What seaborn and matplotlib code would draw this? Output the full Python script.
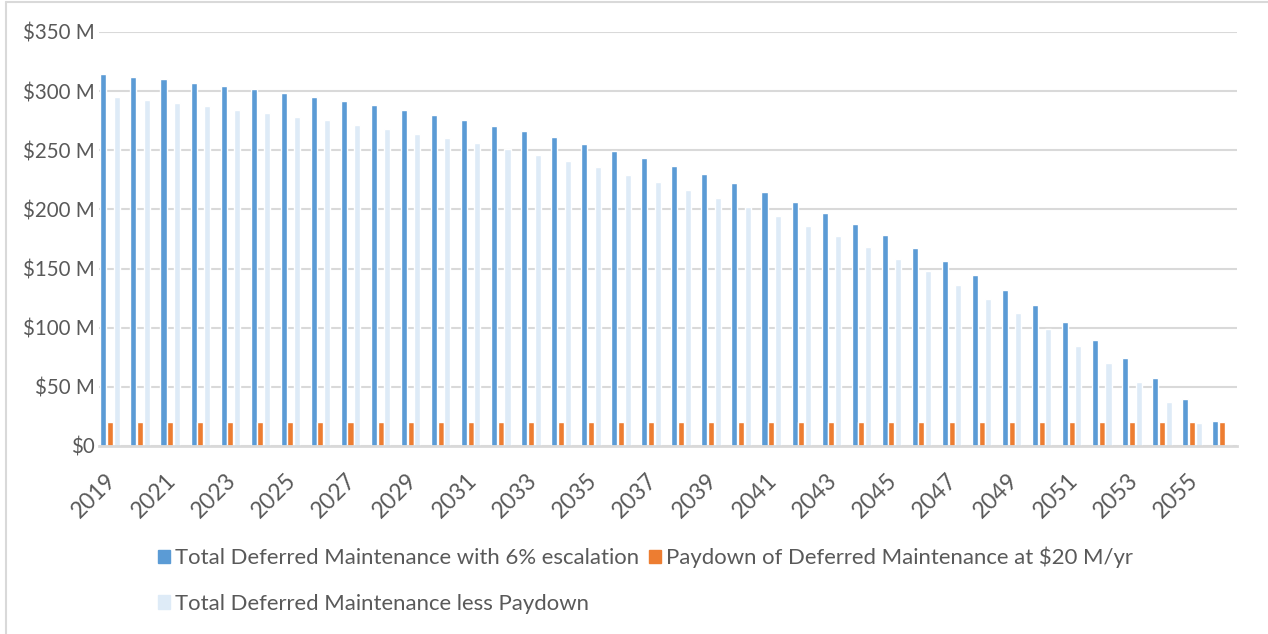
import pandas as pd
import matplotlib.pyplot as plt
import matplotlib.transforms as mtransforms
from matplotlib.patches import Patch
from matplotlib.lines import Line2D
import seaborn as sns

years = list(range(2019, 2057))
total_escalated = [314.5, 311.9, 310.2, 306.8, 304.3, 301.8, 298.4, 295.0, 291.6, 288.2,
                   284.0, 279.8, 275.5, 270.5, 266.2, 261.2, 255.3, 249.3, 243.4, 236.6,
                   229.9, 222.3, 214.7, 206.2, 196.9, 187.6, 178.3, 167.2, 156.2, 144.3,
                   131.6, 118.9, 104.6, 89.4, 74.2, 57.3, 39.5, 20.9]
paydown = [20] * 38
less_paydown = [295.0, 292.5, 290.0, 287.4, 284.0, 281.5, 278.1, 275.5, 271.3, 267.9,
                263.7, 260.3, 256.1, 251.0, 245.9, 240.9, 235.8, 229.0, 223.1, 216.3,
                209.6, 202.0, 194.4, 185.9, 177.4, 168.1, 158.0, 147.8, 136.0, 124.1,
                112.3, 98.7, 84.3, 70.0, 53.9, 37.0, 19.2, 0.9]
series_names = ["Total Deferred Maintenance with 6% escalation",
                "Paydown of Deferred Maintenance at $20 M/yr",
                "Total Deferred Maintenance less Paydown"]
colors = ["#5B9BD5", "#ED7D31", "#DEEBF7"]
ytick_vals = [0, 50, 100, 150, 200, 250, 300, 350]
ytick_labels = ["$0", "$50 M", "$100 M", "$150 M", "$200 M", "$250 M", "$300 M", "$350 M"]

df = pd.DataFrame({
    "Year": [str(y) for y in years] * 3,
    "Value": total_escalated + paydown + less_paydown,
    "Series": [series_names[0]] * 38 + [series_names[1]] * 38 + [series_names[2]] * 38,
})

sns.set_style("white")
plt.rcParams['font.family'] = ['Lato', 'DejaVu Sans']
text_color = "#595959"

fig = plt.figure(figsize=(12.68, 6.34), dpi=100)
ax = fig.add_axes([99 / 1268, 1 - 446 / 634, (1237 - 99) / 1268, (446 - 32) / 634])

sns.barplot(data=df, x="Year", y="Value", hue="Series", hue_order=series_names,
            palette=colors, width=0.67, gap=0.1, saturation=1, legend=False, ax=ax)

ax.set_ylim(0, 350)
ax.set_xlim(-0.37, 37.5)
ax.set_yticks(ytick_vals)
ax.set_yticklabels(ytick_labels)
ax.set_xticks(range(0, 38, 2))
ax.set_xticklabels([str(y) for y in years[::2]])
ax.set_xlabel("")
ax.set_ylabel("")

ax.yaxis.grid(True, color="#D9D9D9", linewidth=1.5)
ax.set_axisbelow(True)
for side in ["top", "right", "left"]:
    ax.spines[side].set_visible(False)
ax.spines["bottom"].set_color("#D9D9D9")
ax.spines["bottom"].set_linewidth(2)

ax.tick_params(axis="y", length=0, pad=3, labelsize=14.8, labelcolor=text_color)
ax.tick_params(axis="x", length=0, pad=17, labelsize=16.5, labelcolor=text_color)
offset = mtransforms.ScaledTranslation(10 / 100, 0, fig.dpi_scale_trans)
for lbl in ax.get_xticklabels():
    lbl.set_rotation(45)
    lbl.set_ha("right")
    lbl.set_va("top")
    lbl.set_transform(lbl.get_transform() + offset)

handles = [Patch(color=colors[0]), Patch(color=colors[2]), Patch(color=colors[1])]
labels = [series_names[0], series_names[2], series_names[1]]
fig.legend(handles, labels, ncol=2, loc="upper left",
           bbox_to_anchor=(158 / 1268, 1 - 547 / 634), frameon=False,
           fontsize=15.9, labelcolor=text_color, handlelength=0.54, handleheight=0.54,
           handletextpad=0.23, columnspacing=0.45, labelspacing=1.15,
           borderpad=0, borderaxespad=0)

fig.add_artist(Line2D([6 / 1268, 6 / 1268], [0, 1 - 2 / 634], color="#D9D9D9", linewidth=1.5))
fig.add_artist(Line2D([6 / 1268, 1], [1 - 2 / 634, 1 - 2 / 634], color="#D9D9D9", linewidth=1.5))

plt.savefig("out.png", dpi=100)
